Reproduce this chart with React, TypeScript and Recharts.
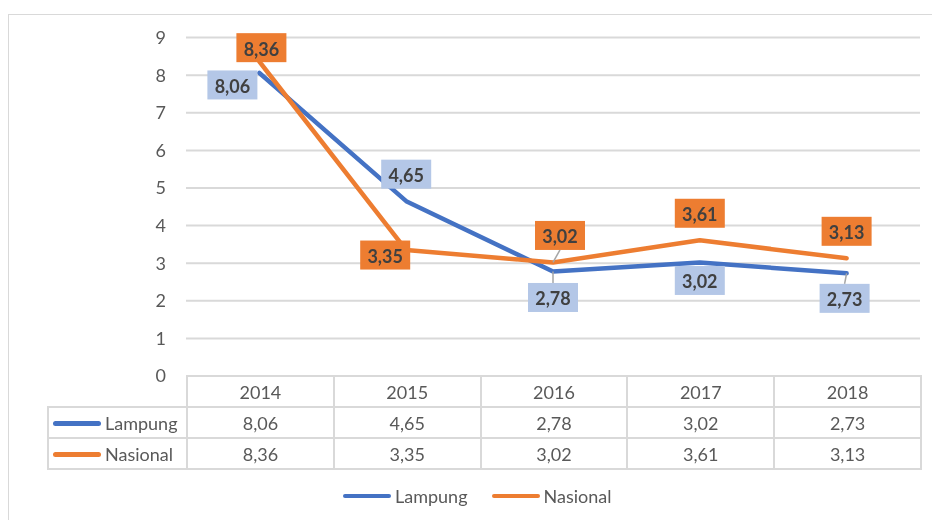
import { LineChart, Line, XAxis, YAxis, CartesianGrid, LabelList } from "recharts";

const years = ["2014", "2015", "2016", "2017", "2018"];
const lampung = [8.06, 4.65, 2.78, 3.02, 2.73];
const nasional = [8.36, 3.35, 3.02, 3.61, 3.13];
const yTicks = [0, 1, 2, 3, 4, 5, 6, 7, 8, 9];

const BLUE = "#4472C4";
const ORANGE = "#ED7D31";
const GRID = "#d9d9d9";
const TEXT = "#595959";
const FONT = "Lato, 'Open Sans', sans-serif";

const fmt = (v: number) => v.toFixed(2).replace(".", ",");

const data = years.map((year, i) => ({
  year,
  lampung: lampung[i],
  nasional: nasional[i],
}));

// label box offsets (box centre relative to the point), and leader lines
const lampungLabelPos = [
  { dx: -27, dy: 12, leader: false },
  { dx: 0, dy: -27, leader: false },
  { dx: 0, dy: 26, leader: true },
  { dx: 0, dy: 18, leader: false },
  { dx: -2, dy: 25, leader: true },
];
const nasionalLabelPos = [
  { dx: 2, dy: -14, leader: false },
  { dx: -21, dy: 5, leader: false },
  { dx: 7, dy: -27, leader: true },
  { dx: 0, dy: -27, leader: false },
  { dx: 0, dy: -27, leader: false },
];

const BOX_W = 50;
const BOX_H = 29;

function makeLabel(values: number[], pos: typeof lampungLabelPos, fill: string) {
  return (props: any) => {
    const { x, y, index } = props;
    if (x == null || y == null || index == null) return null;
    const p = pos[index];
    const cx = x + p.dx;
    const cy = y + p.dy;
    const edgeY = cy > y ? cy - BOX_H / 2 : cy + BOX_H / 2;
    return (
      <g>
        {p.leader && (
          <line x1={x} y1={y} x2={cx} y2={edgeY} stroke="#a6a6a6" strokeWidth={1.5} />
        )}
        <rect x={cx - BOX_W / 2} y={cy - BOX_H / 2} width={BOX_W} height={BOX_H} fill={fill} />
        <text
          x={cx}
          y={cy + 1}
          textAnchor="middle"
          dominantBaseline="central"
          fill="#404040"
          fontSize={18}
          fontWeight={700}
          fontFamily={FONT}
        >
          {fmt(values[index])}
        </text>
      </g>
    );
  };
}

const colW = 146.8;

function LegendKey({ color }: { color: string }) {
  return (
    <span
      style={{
        display: "inline-block",
        width: 48,
        height: 4.5,
        borderRadius: 3,
        background: color,
        marginRight: 4,
        verticalAlign: "middle",
      }}
    />
  );
}

export default function App() {
  const cell: React.CSSProperties = {
    border: `2px solid ${GRID}`,
    textAlign: "center",
    padding: 0,
    color: TEXT,
  };
  const rows = [
    { name: "Lampung", color: BLUE, values: lampung },
    { name: "Nasional", color: ORANGE, values: nasional },
  ];

  return (
    <div
      style={{
        position: "relative",
        width: 916,
        height: 504,
        fontFamily: FONT,
      }}
    >
      {/* outer chart frame, running off the right and bottom edge of the shot */}
      <div
        style={{
          position: "fixed",
          left: 8,
          top: 14,
          width: 1000,
          height: 600,
          border: `1.5px solid ${GRID}`,
        }}
      />
      <div style={{ position: "absolute", left: 0, top: 0 }}>
        <LineChart
          width={916}
          height={470}
          data={data}
          margin={{ top: 29.6, right: 4, bottom: 102, left: 0 }}
        >
          <CartesianGrid vertical={false} stroke={GRID} strokeWidth={2} />
          <XAxis dataKey="year" hide padding={{ left: 73.4, right: 73.4 }} />
          <YAxis
            domain={[0, 9]}
            ticks={yTicks}
            interval={0}
            width={178}
            axisLine={false}
            tickLine={false}
            tickSize={0}
            tickMargin={20}
            tick={{ fill: TEXT, fontSize: 18, fontFamily: FONT }}
          />
          <Line
            dataKey="lampung"
            stroke={BLUE}
            strokeWidth={4.5}
            strokeLinecap="round"
            strokeLinejoin="round"
            dot={false}
            activeDot={false}
            isAnimationActive={false}
          />
          <Line
            dataKey="nasional"
            stroke={ORANGE}
            strokeWidth={4.5}
            strokeLinecap="round"
            strokeLinejoin="round"
            dot={false}
            activeDot={false}
            isAnimationActive={false}
          />
          <Line dataKey="lampung" stroke="none" dot={false} activeDot={false} isAnimationActive={false}>
            <LabelList dataKey="lampung" content={makeLabel(lampung, lampungLabelPos, "#B4C7E7")} />
          </Line>
          <Line dataKey="nasional" stroke="none" dot={false} activeDot={false} isAnimationActive={false}>
            <LabelList dataKey="nasional" content={makeLabel(nasional, nasionalLabelPos, ORANGE)} />
          </Line>
        </LineChart>
      </div>

      <table
        style={{
          position: "absolute",
          left: 39,
          top: 367,
          borderCollapse: "collapse",
          tableLayout: "fixed",
          width: 874,
          fontSize: 18,
          fontFamily: FONT,
        }}
      >
        <colgroup>
          <col style={{ width: 139 }} />
          {years.map((y) => (
            <col key={y} style={{ width: colW }} />
          ))}
        </colgroup>
        <tbody>
          <tr style={{ height: 31 }}>
            <td style={{ border: "none" }} />
            {years.map((y) => (
              <td key={y} style={cell}>
                {y}
              </td>
            ))}
          </tr>
          {rows.map((r) => (
            <tr key={r.name} style={{ height: 31 }}>
              <td style={{ ...cell, textAlign: "left", paddingLeft: 4, whiteSpace: "nowrap" }}>
                <LegendKey color={r.color} />
                <span style={{ verticalAlign: "middle" }}>{r.name}</span>
              </td>
              {r.values.map((v, i) => (
                <td key={i} style={cell}>
                  {fmt(v)}
                </td>
              ))}
            </tr>
          ))}
        </tbody>
      </table>

      <div
        style={{
          position: "absolute",
          left: 335,
          top: 477,
          display: "flex",
          alignItems: "center",
          fontSize: 18,
          color: TEXT,
        }}
      >
        <LegendKey color={BLUE} />
        <span style={{ marginRight: 24 }}>Lampung</span>
        <LegendKey color={ORANGE} />
        <span>Nasional</span>
      </div>
    </div>
  );
}
